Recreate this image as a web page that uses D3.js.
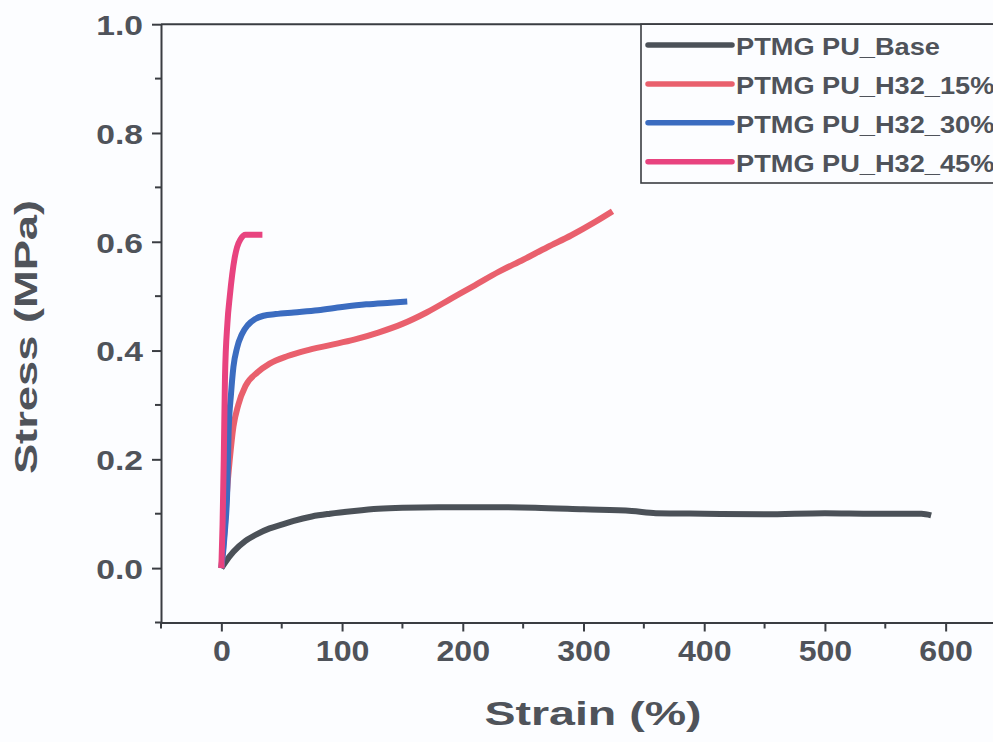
<!DOCTYPE html>
<html>
<head>
<meta charset="utf-8">
<script src="https://cdn.jsdelivr.net/npm/d3@7/dist/d3.min.js"></script>
<style>
  html, body { margin: 0; padding: 0; background: #fcfdff; }
  svg { display: block; }
  text { font-family: "Liberation Sans", Arial, sans-serif; font-weight: bold; fill: #4f535a; }
</style>
</head>
<body>
<svg id="chart" width="993" height="742"></svg>
<script>
// ---- data ----
const seriesNames = ["PTMG PU_Base", "PTMG PU_H32_15%", "PTMG PU_H32_30%", "PTMG PU_H32_45%"];
const seriesColors = ["#4b5158", "#e9606d", "#3b6cc0", "#e8437f"];

const baseStrain  = [0, 3, 10, 20, 30, 40, 50, 60, 75, 90, 110, 130, 150, 180, 220, 260, 300, 340, 360, 400, 450, 500, 540, 580, 588];
const baseStress  = [0, 0.01, 0.03, 0.05, 0.063, 0.073, 0.08, 0.087, 0.095, 0.1, 0.105, 0.109, 0.111, 0.112, 0.112, 0.111, 0.108, 0.105, 0.101, 0.1, 0.099, 0.101, 0.1, 0.1, 0.097];

const h15Strain = [0, 3, 5, 7, 10, 14, 20, 30, 40, 55, 70, 90, 110, 130, 150, 170, 190, 210, 230, 250, 270, 290, 310, 324];
const h15Stress = [0, 0.08, 0.15, 0.2, 0.26, 0.3, 0.335, 0.36, 0.376, 0.39, 0.4, 0.41, 0.42, 0.433, 0.449, 0.47, 0.495, 0.52, 0.545, 0.567, 0.59, 0.612, 0.637, 0.656];

const h30Strain = [0, 3, 5, 6, 8, 10, 13, 17, 22, 28, 35, 45, 60, 80, 100, 120, 140, 154];
const h30Stress = [0, 0.07, 0.15, 0.25, 0.32, 0.37, 0.405, 0.43, 0.447, 0.458, 0.464, 0.467, 0.47, 0.474, 0.48, 0.485, 0.488, 0.49];

const h45Strain = [0, 1, 2, 3, 5, 7, 9, 11, 13, 16, 20, 25, 34];
const h45Stress = [0, 0.08, 0.2, 0.35, 0.45, 0.5, 0.54, 0.57, 0.59, 0.605, 0.613, 0.613, 0.613];

const xMajorTicks = [0, 100, 200, 300, 400, 500, 600];
const xMinorTicks = [-50, 50, 150, 250, 350, 450, 550];
const yMajorTicks = [0.0, 0.2, 0.4, 0.6, 0.8, 1.0];
const yMinorTicks = [-0.1, 0.1, 0.3, 0.5, 0.7, 0.9];

// ---- build ----
const series = [
  {name: seriesNames[0], color: seriesColors[0], pts: d3.zip(baseStrain, baseStress)},
  {name: seriesNames[1], color: seriesColors[1], pts: d3.zip(h15Strain, h15Stress)},
  {name: seriesNames[2], color: seriesColors[2], pts: d3.zip(h30Strain, h30Stress)},
  {name: seriesNames[3], color: seriesColors[3], pts: d3.zip(h45Strain, h45Stress)}
];

const svg = d3.select("#chart");
const x = d3.scaleLinear().domain([-50, 650]).range([161, 1006]);
const y = d3.scaleLinear().domain([-0.1, 1.0]).range([622.5, 24.2]);

function stretch(sel, factor) {
  sel.each(function() {
    const len = this.getComputedTextLength();
    d3.select(this).attr("textLength", len * factor).attr("lengthAdjust", "spacingAndGlyphs");
  });
}

// frame top line
svg.append("line").attr("x1", x(-50)).attr("x2", 993).attr("y1", y(1.0)).attr("y2", y(1.0))
  .attr("stroke", "#3a3d42").attr("stroke-width", 2);

// x axis
const gx = svg.append("g").attr("transform", `translate(0,${y(-0.1)})`);
gx.call(d3.axisBottom(x).tickValues(xMajorTicks).tickFormat(d3.format("d")).tickSize(9).tickSizeOuter(0).tickPadding(6));
gx.select(".domain").attr("stroke", "#3a3d42").attr("stroke-width", 2);
gx.selectAll(".tick line").attr("stroke", "#3a3d42").attr("stroke-width", 2);
gx.selectAll(".tick text").attr("font-size", 30).attr("fill", "#4f535a")
  .attr("font-family", "Liberation Sans, Arial, sans-serif").attr("font-weight", "bold").attr("dy", "0.78em");
stretch(gx.selectAll(".tick text"), 1.07);
gx.selectAll(".minor").data(xMinorTicks).enter().append("line").attr("class", "minor")
  .attr("x1", d => x(d)).attr("x2", d => x(d)).attr("y1", 0).attr("y2", 6)
  .attr("stroke", "#3a3d42").attr("stroke-width", 2);

// y axis
const gy = svg.append("g").attr("transform", `translate(${x(-50)},0)`);
gy.call(d3.axisLeft(y).tickValues(yMajorTicks).tickFormat(d3.format(".1f")).tickSize(9).tickSizeOuter(0).tickPadding(9));
gy.select(".domain").attr("stroke", "#3a3d42").attr("stroke-width", 2);
gy.selectAll(".tick line").attr("stroke", "#3a3d42").attr("stroke-width", 2);
gy.selectAll(".tick text").attr("font-size", 28.5).attr("fill", "#4f535a")
  .attr("font-family", "Liberation Sans, Arial, sans-serif").attr("font-weight", "bold").attr("dy", "0.36em");
stretch(gy.selectAll(".tick text"), 1.18);
gy.selectAll(".minor").data(yMinorTicks).enter().append("line").attr("class", "minor")
  .attr("x1", 0).attr("x2", -6).attr("y1", d => y(d)).attr("y2", d => y(d))
  .attr("stroke", "#3a3d42").attr("stroke-width", 2);

// lines
const line = d3.line().x(d => x(d[0])).y(d => y(d[1])).curve(d3.curveMonotoneX);
svg.append("g").selectAll("path").data(series).enter().append("path")
  .attr("d", d => line(d.pts))
  .attr("fill", "none").attr("stroke", d => d.color).attr("stroke-width", 6)
  .attr("stroke-linejoin", "round").attr("stroke-linecap", "butt");

// axis titles
const xt = svg.append("text").attr("x", 593).attr("y", 725).attr("text-anchor", "middle")
  .attr("font-size", 33).text("Strain (%)");
stretch(xt, 1.41);
const yt = svg.append("text").attr("transform", "translate(37,337) rotate(-90)").attr("text-anchor", "middle")
  .attr("font-size", 31).text("Stress (MPa)");
stretch(yt, 1.46);

// legend
const lg = svg.append("g");
lg.append("rect").attr("x", 641).attr("y", y(1.0)).attr("width", 400).attr("height", 183 - y(1.0))
  .attr("fill", "#fcfdff").attr("stroke", "#3a3d42").attr("stroke-width", 1.6);
const rows = lg.selectAll("g.row").data(series).enter().append("g").attr("class", "row")
  .attr("transform", (d, i) => `translate(0,${55 + i * 38.9})`);
rows.append("line").attr("x1", 648).attr("x2", 732).attr("y1", -10).attr("y2", -10)
  .attr("stroke", d => d.color).attr("stroke-width", 5.5).attr("stroke-linecap", "round");
const lt = rows.append("text").attr("x", 736).attr("y", 0).attr("font-size", 23.5).text(d => d.name);
stretch(lt, 1.157);
</script>
</body>
</html>
